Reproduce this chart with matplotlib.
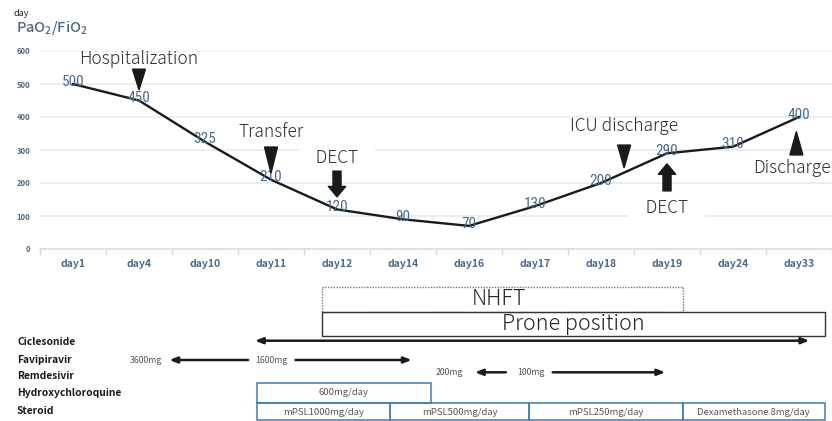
import matplotlib
matplotlib.use("Agg")
import matplotlib.pyplot as plt
from matplotlib.patches import Polygon, Rectangle
from matplotlib import font_manager as fm

# ---------------- data ----------------
days = ['day1', 'day4', 'day10', 'day11', 'day12', 'day14', 'day16',
        'day17', 'day18', 'day19', 'day24', 'day33']
pf_ratio = [500, 450, 325, 210, 120, 90, 70, 130, 200, 290, 310, 400]
y_ticks = [0, 100, 200, 300, 400, 500, 600]

# clinical events (label, x in category units)
tri_down_events = [('Hospitalization', 1.0), ('Transfer', 3.0), ('ICU discharge', 8.35)]
tri_up_events = [('Discharge', 10.96)]
dect_events = [('DECT', 4.0, 'down'), ('DECT', 9.0, 'up')]

# treatment timeline (x in category units)
nhft_span = (3.773, 9.236)
prone_span = (3.773, 11.39)
ciclesonide_span = (2.758, 11.155)
favipiravir_parts = [(1.461, 2.652, '<'), (3.372, 5.130, '>')]
favipiravir_doses = [('3600mg', 1.099), ('1600mg', 3.004)]
remdesivir_parts = [(6.091, 6.559, '<'), (7.268, 8.972, '>')]
remdesivir_doses = [('200mg', 5.699), ('100mg', 6.936)]
hcq_span = (2.793, 5.417, '600mg/day')
steroid_spans = [(2.793, 4.805, 'mPSL1000mg/day'),
                 (4.805, 6.916, 'mPSL500mg/day'),
                 (6.916, 9.236, 'mPSL250mg/day'),
                 (9.236, 11.39, 'Dexamethasone 8mg/day')]
row_labels = ['Ciclesonide', 'Favipiravir', 'Remdesivir', 'Hydroxychloroquine', 'Steroid']

# ---------------- fonts ----------------
avail = {f.name for f in fm.fontManager.ttflist}
def pick(*names):
    for n in names:
        if n in avail:
            return n
    return 'DejaVu Sans'
JP = pick('Noto Sans CJK JP', 'Noto Sans')
NARROW = pick('Liberation Sans Narrow', 'Roboto Condensed', 'Liberation Sans')
plt.rcParams['font.family'] = [JP, 'DejaVu Sans']
plt.rcParams['mathtext.default'] = 'regular'

W, H = 832, 421
fig = plt.figure(figsize=(W / 100, H / 100), dpi=100)

def fx(px):
    return px / W
def fy(py):
    return 1 - py / H

# ---------------- main chart ----------------
ax = fig.add_axes([fx(40), fy(249), fx(792), 198 / H])
ax.set_xlim(-0.5, -0.5 + 792 / 66.3)
ax.set_ylim(0, 600)
x = list(range(len(days)))

blue = '#4d6a88'
grid_c = '#e4e8ee'
for t in y_ticks[1:]:
    ax.axhline(t, color=grid_c, lw=1.1, zorder=0)
for s in ['top', 'right', 'left']:
    ax.spines[s].set_visible(False)
ax.spines['bottom'].set_color('#d5dae1')
ax.spines['bottom'].set_linewidth(1.1)

ax.set_yticks(y_ticks)
ax.set_yticklabels([str(v) for v in y_ticks], fontsize=5.5, fontweight='bold', color=blue)
ax.tick_params(axis='y', length=0, pad=7)
ax.set_xticks(x)
ax.set_xticklabels(days, fontsize=7.5, fontweight='bold', color=blue)
ax.tick_params(axis='x', length=0, pad=7)
ax.set_xticks([i - 0.5 for i in range(len(days) + 1)], minor=True)
ax.tick_params(axis='x', which='minor', length=4, color='#d5dae1', width=1)

ax.plot(x, pf_ratio, color='#1a1a1a', lw=1.7, zorder=3, clip_on=False)
for xi, v in zip(x, pf_ratio):
    ax.text(xi, v + 7, str(v), ha='center', va='center', fontsize=11,
            family=[NARROW, 'DejaVu Sans'], color='#4a6a8b', zorder=4)

ann_kw = dict(fontsize=12.5, color='#2b2b2b', ha='center', va='center', zorder=6,
              fontweight='light')
xw = 6.5 / 66.3  # half width of triangle markers, category units

tri_geo = {'Hospitalization': (576, 545, 482),
           'Transfer': (354, 309, 230),
           'ICU discharge': (373, 315, 246)}
for name, xc in tri_down_events:
    ty, top, tip = tri_geo[name]
    ax.text(xc, ty, name, **ann_kw)
    ax.add_patch(Polygon([[xc - xw, top], [xc + xw, top], [xc, tip]], closed=True,
                         color='#1a1a1a', zorder=5, clip_on=False))
for name, xc in tri_up_events:
    ax.text(xc - 0.07, 245, name, **ann_kw)
    ax.add_patch(Polygon([[xc - xw, 285], [xc + xw, 285], [xc, 356]], closed=True,
                         color='#1a1a1a', zorder=5, clip_on=False))

for name, xc, d in dect_events:
    if d == 'down':
        ty, tail, tip = 276, 236, 158
    else:
        ty, tail, tip = 124, 176, 258
    ax.text(xc, ty, '   ' + name + '   ', fontsize=12.5, color='#2b2b2b', ha='center',
            va='center', zorder=2, fontweight='light',
            bbox=dict(boxstyle='square,pad=0.3', fc='white', ec='none'))
    ax.annotate('', xy=(xc, tip), xytext=(xc, tail),
                arrowprops=dict(arrowstyle='simple,head_length=0.75,head_width=1.25,tail_width=0.58',
                                color='#1a1a1a', shrinkA=0, shrinkB=0, mutation_scale=10),
                zorder=5, annotation_clip=False)

fig.text(fx(13), fy(14), 'day', fontsize=6.5, color='#222222', ha='left', va='center')
fig.text(fx(16), fy(28), 'PaO$_2$/FiO$_2$', fontsize=10.5, color=blue, ha='left',
         va='center', fontweight='medium')

# ---------------- timeline ----------------
ax2 = fig.add_axes([fx(40), 0, fx(792), 141 / H])
ax2.set_xlim(ax.get_xlim())
ax2.set_ylim(421, 280)
ax2.axis('off')

ax2.add_patch(Rectangle((nhft_span[0], 286.7), nhft_span[1] - nhft_span[0], 25,
                        fill=False, ec='#777777', lw=1.0, ls=(0, (1, 1))))
ax2.text(sum(nhft_span) / 2 - 0.05, 299, 'NHFT', fontsize=15.5, color='#222222',
         ha='center', va='center', fontweight='light')
ax2.add_patch(Rectangle((prone_span[0], 311.7), prone_span[1] - prone_span[0], 24.3,
                        fill=False, ec='#333333', lw=1.0))
ax2.text(sum(prone_span) / 2, 324, 'Prone position', fontsize=15.5, color='#222222',
         ha='center', va='center', fontweight='light')

arr_c = '#1a1a1a'
ax2.annotate('', xy=(ciclesonide_span[0], 340.7), xytext=(ciclesonide_span[1], 340.7),
             arrowprops=dict(arrowstyle='<|-|>,head_length=0.45,head_width=0.18',
                             color=arr_c, lw=1.8, shrinkA=0, shrinkB=0))

def part_arrows(parts, yv):
    for a, b, head in parts:
        tip, tail = (a, b) if head == '<' else (b, a)
        ax2.annotate('', xy=(tip, yv), xytext=(tail, yv),
                     arrowprops=dict(arrowstyle='-|>,head_length=0.45,head_width=0.18',
                                     color=arr_c, lw=1.8, shrinkA=0, shrinkB=0))

part_arrows(favipiravir_parts, 360)
for t, xc in favipiravir_doses:
    ax2.text(xc, 360, t, fontsize=6.3, color='#555555', ha='center', va='center')
part_arrows(remdesivir_parts, 372.3)
for t, xc in remdesivir_doses:
    ax2.text(xc, 372.3, t, fontsize=6.3, color='#555555', ha='center', va='center')

box_c = '#3f7cba'
a, b, t = hcq_span
ax2.add_patch(Rectangle((a, 382.7), b - a, 20, fill=False, ec=box_c, lw=1.1))
ax2.text((a + b) / 2, 392.7, t, fontsize=6.8, color='#555555', ha='center', va='center')
for a, b, t in steroid_spans:
    ax2.add_patch(Rectangle((a, 402.7), b - a, 17.5, fill=False, ec=box_c, lw=1.1))
    ax2.text((a + b) / 2, 412.3, t, fontsize=6.8, color='#555555', ha='center', va='center')

row_y = [341.7, 360, 375.7, 393.3, 411]
for lab, yy in zip(row_labels, row_y):
    fig.text(fx(17), fy(yy), lab, fontsize=7.4, fontweight='bold', color='#1a1a1a',
             ha='left', va='center')

fig.savefig('out.png', dpi=100)
